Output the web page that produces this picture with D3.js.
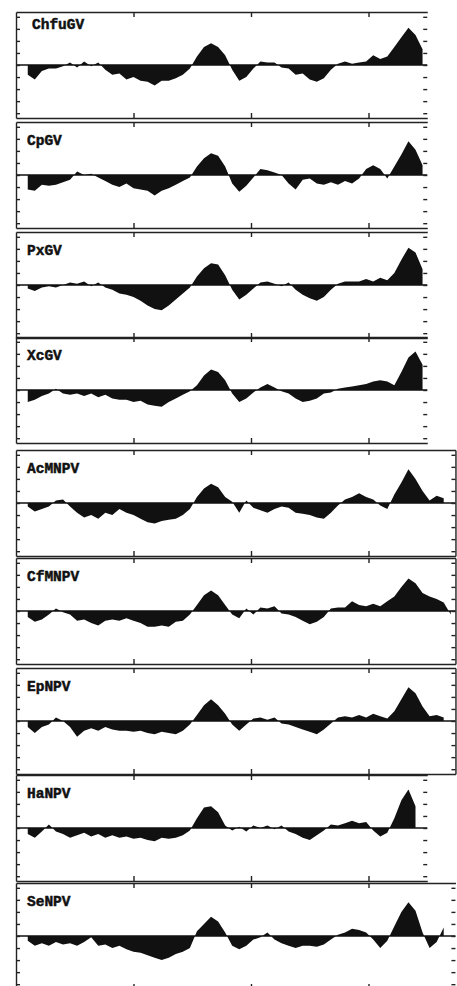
<html>
<head>
<script src="https://d3js.org/d3.v7.min.js"></script>
<style>
  body{margin:0;background:#fff}
  svg{display:block}
  .lbl{font-family:"Liberation Mono",monospace;font-weight:bold;font-size:14.5px;fill:#111;stroke:#111;stroke-width:0.5}
  .ax path,.ax line{stroke:#222;stroke-width:1.4}
</style>
</head>
<body>
<script>
// profile values, one every 3 residues starting at residue 5
var names = ["ChfuGV","CpGV","PxGV","XcGV","AcMNPV","CfMNPV","EpNPV","HaNPV","SeNPV"];

var chfuGV = [-0.8,-1.2,-0.5,-0.3,-0.3,-0.1,0.2,-0.2,0.3,-0.1, 0.2,-0.4,-0.8,-0.7,-1.2,-1,-1.3,-1.4,-1.7,-1.3,
  -1.3,-1.1,-0.8,-0.3,0.7,1.5,1.8,1.5,0.8,-0.4, -1.3,-1,-0.3,0.3,0.2,0.2,-0.2,-0.3,-0.8,-0.7,
  -1.2,-1.4,-1.1,-0.4,0.1,0.3,0.1,0.2,0.3,0.8, 0.5,0.7,1.5,2.3,3.1,2.5,1.3];
var cpGV = [-1.2,-1.3,-0.8,-0.9,-0.8,-0.6,-0.4,0.3,0,0.1, -0.2,-0.5,-0.8,-1,-0.7,-1.1,-1.2,-1.3,-1.7,-1.3,
  -1.1,-0.8,-0.5,-0.2,0.7,1.4,1.8,1.6,0.7,-0.7, -1.4,-0.9,-0.2,0.5,0.4,0.2,0,-0.7,-1.2,-0.4,
  -0.3,-0.7,-0.8,-0.6,-0.8,-0.5,-0.7,-0.3,0.5,0.8, 0.5,-0.3,0.7,1.7,2.8,2.1,0.8];
var pxGV = [-0.3,-0.5,-0.2,-0.1,-0.2,0,0.2,0.1,0.3,-0.1, 0.2,-0.2,-0.4,-0.7,-0.8,-1,-1.3,-1.7,-2,-2.1,
  -1.7,-1.2,-0.7,-0.2,0.7,1.4,1.8,1.7,0.8,-0.4, -1.2,-0.8,-0.3,0.2,0.3,0.1,-0.1,0.2,-0.4,-0.8,
  -1.1,-1.3,-1,-0.4,0.1,0.3,0.3,0.3,0.5,0.3, 0.6,0.4,1,2.1,3.1,2.7,1.3];
var xcGV = [-1,-0.8,-0.5,-0.3,0.1,-0.3,-0.4,-0.3,-0.5,-0.3, -0.6,-0.4,-0.7,-0.8,-0.8,-1,-0.9,-1.2,-1.3,-1.4,
  -1,-0.7,-0.4,-0.1,0.4,1.2,1.7,1.5,0.8,-0.3, -1,-0.7,-0.2,0.2,0.5,0.2,-0.1,-0.3,-0.7,-1,
  -0.9,-0.7,-0.3,-0.2,0.1,0.2,0.3,0.4,0.5,0.7, 0.8,0.7,0.4,1.5,2.7,3.2,2.1];
var acMNPV = [-0.3,-0.7,-0.5,-0.3,0.2,0.3,-0.3,-0.8,-1.2,-1, -1.3,-0.8,-1,-0.5,-0.8,-1,-1.3,-1.6,-1.7,-1.5,
  -1.4,-1.3,-1,-0.5,0.5,1.2,1.6,1.3,0.5,0.1, -0.8,0.2,-0.4,-0.6,-0.8,-0.5,-0.3,-0.4,-0.8,-0.9,
  -1,-1.2,-1.3,-0.8,-0.2,0.3,0.5,0.8,0.5,0.3, -0.2,-0.5,0.7,1.7,2.8,2,1,0.2,0.6,0.4];
var cfMNPV = [-0.5,-0.9,-0.7,-0.3,0.2,-0.1,-0.3,-0.8,-0.7,-1, -1.2,-0.8,-0.7,-0.8,-0.6,-0.8,-1,-1.3,-1.3,-1.2,
  -1.3,-0.9,-0.8,-0.3,0.5,1.3,1.7,1.3,0.5,-0.3, -0.6,0.2,-0.3,0.3,0.2,0.4,-0.2,-0.3,-0.5,-0.8,
  -1.1,-0.9,-0.5,0.2,0.3,0.3,0.8,0.5,0.4,0.6, 0.4,0.8,1.2,2,2.7,2.3,1.5,1.2,1,0.7, -0.3];
var epNPV = [-0.5,-1,-0.5,-0.3,0.3,0,-0.5,-1.3,-0.8,-0.6, -0.8,-0.5,-0.7,-0.8,-0.8,-0.9,-0.8,-1,-1.1,-0.9,
  -1,-1.1,-0.8,-0.3,0.5,1.3,1.8,1.3,0.6,-0.3, -0.8,-0.3,0.2,0.3,0.1,0.3,-0.2,-0.3,-0.5,-0.7,
  -0.9,-1.1,-0.7,-0.2,0.3,0.4,0.3,0.5,0.3,0.6, 0.4,0.2,0.8,1.8,2.8,2.3,1.2,0.4,0.5,0.3];
var haNPV = [-0.5,-0.8,-0.3,0.3,-0.3,-0.5,-0.8,-0.6,-0.4,-0.7, -0.5,-0.8,-0.6,-0.8,-0.7,-0.9,-0.8,-1,-1.1,-0.8,
  -0.9,-0.8,-0.6,-0.2,0.8,1.7,1.8,1.3,0.2,-0.2, 0.1,-0.3,0.2,0,0.2,-0.1,0.2,-0.3,-0.5,-0.8,
  -1,-0.6,-0.2,0.3,0.2,0.4,0.6,0.4,0.5,-0.2, -0.7,-0.4,0.8,2.3,3.2,1.8];
var seNPV = [-0.4,-0.8,-0.6,-0.8,-0.5,-0.7,-0.6,-0.8,-0.5,-0.1, -0.8,-0.7,-1,-0.8,-1.1,-1.3,-1.4,-1.6,-1.8,-2,
  -1.8,-1.5,-1.3,-1,0.4,1,1.6,1.2,0.3,-0.8, -1.1,-0.8,-0.3,-0.1,0.3,-0.3,-0.6,-0.8,-1,-0.8,
  -0.8,-0.9,-0.7,-0.3,0.1,0.3,0.6,0.5,0.3,-0.3, -1,-0.4,0.8,2,2.8,2.1,0.3,-1,-0.5,0.7];

var series = [chfuGV,cpGV,pxGV,xcGV,acMNPV,cfMNPV,epNPV,haNPV,seNPV];
var axisLen = [175,175,175,175,187,187,187,175,187];   // residues shown on each x axis
var xTicks = [50,100,150];
var yTicks = [-4,-3,-2,-1,0,1,2,3,4];
var startRes = 5, stepRes = 3;

var svg = d3.select("body").append("svg")
    .attr("width",457)
    .attr("height",986)

// panels were pasted up by hand, so their tops are not evenly spaced
var panelTop = [12,122,232,337,450,558,668,775,883];
var ph = 106, left = 16, pxRes = 2.35;

series.forEach(function(vals,i){
  var top = panelTop[i];
  var right = left + axisLen[i]*pxRes;
  var x = d3.scaleLinear().domain([0,axisLen[i]]).range([left,right]);
  var y = d3.scaleLinear().domain([-4.4,4.4]).range([top+ph,top]);
  var g = svg.append("g");

  var pts = vals.map(function(v,j){return {r:startRes+j*stepRes, v:v}});
  var area = d3.area()
      .x(function(d){return x(d.r)})
      .y0(y(0))
      .y1(function(d){return y(d.v)});
  g.append("path").datum(pts).attr("d",area).attr("fill","#111");

  // zero line
  g.append("line")
    .attr("x1",left).attr("x2",right)
    .attr("y1",y(0)).attr("y2",y(0))
    .attr("stroke","#111").attr("stroke-width",1.3);

  // frame: top and bottom axes carry the x ticks, left carries y ticks
  g.append("g").classed("ax",true)
    .attr("transform","translate(0,"+top+")")
    .call(d3.axisTop(x).tickValues(xTicks).tickSize(-5).tickSizeOuter(0).tickFormat(""));
  g.append("g").classed("ax",true)
    .attr("transform","translate(0,"+(top+ph)+")")
    .call(d3.axisBottom(x).tickValues(xTicks).tickSize(-5).tickSizeOuter(0).tickFormat(""));
  g.append("g").classed("ax",true)
    .attr("transform","translate("+left+",0)")
    .call(d3.axisLeft(y).tickValues(yTicks).tickSize(-4).tickSizeOuter(0).tickFormat(""));
  var r = g.append("g").classed("ax",true)
    .attr("transform","translate("+right+",0)")
    .call(d3.axisRight(y).tickValues(yTicks).tickSize(-4).tickSizeOuter(0).tickFormat(""));
  // only the three long NPV panels have a closed right side
  if(!(i>=4 && i<=6)) r.select(".domain").style("stroke","none");

  g.append("text").classed("lbl",true)
    .attr("x", i===0 ? 32 : 27)
    .attr("y", top + (i===0 ? 17 : 23))
    .text(names[i]);
});
</script>
</body>
</html>
